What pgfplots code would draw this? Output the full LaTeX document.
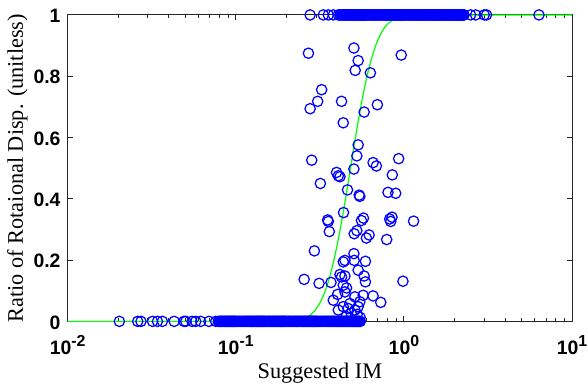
\documentclass[border=0pt]{standalone}
\usepackage{pgfplots}
\pgfplotsset{compat=1.18}
\usepackage{fontspec}
\setmainfont{Liberation Serif}
\newfontfamily\arialf{Liberation Sans}
\definecolor{axgray}{RGB}{38,38,38}
\definecolor{mgreen}{RGB}{0,255,0}
\newcommand\sups[1]{\raisebox{7.6pt}{\fontsize{16}{16}\selectfont #1}}
\begin{document}
\begin{tikzpicture}
\begin{axis}[name=ax, scale only axis, width=507pt, height=308pt,
 xmode=log, xmin=0.01, xmax=10, ymin=0, ymax=1, clip=false,
 xtick={0.01,0.1,1,10},
 xticklabels={10\sups{-2},10\sups{-1},10\sups{0},10\sups{1}},
 minor xtick={0.02,0.03,0.04,0.05,0.06,0.07,0.08,0.09,0.2,0.3,0.4,0.5,0.6,0.7,0.8,0.9,2,3,4,5,6,7,8,9},
 ytick={0,0.2,0.4,0.6,0.8,1}, yticklabels={0,0.2,0.4,0.6,0.8,1},
 tick align=inside, major tick length=5pt, minor tick length=3pt,
 axis line style={axgray, line width=1.1pt},
 every tick/.style={axgray, line width=0.9pt},
 ticklabel style={font=\fontsize{19.5}{19.5}\selectfont\arialf\bfseries, text=black, inner sep=0pt},
 xticklabel style={anchor=north, yshift=-14pt},
 yticklabel style={anchor=east, xshift=-7pt, yshift=-1pt},
 xlabel={Suggested IM}, ylabel={Ratio of Rotaional Disp. (unitless)},
 label style={font=\fontsize{22.4}{22.4}\selectfont, text=black},
 xlabel style={at={(axis description cs:0.5,0)}, anchor=north, yshift=-42pt, inner sep=0pt},
 ylabel style={at={(axis description cs:0,0.5)}, anchor=south, yshift=40pt, inner sep=0pt},
]
% scattered data (blue circles)
\addplot[only marks, mark=o, mark size=5.2pt, mark options={blue, line width=1.25pt}]
 table[row sep=\\]{x y\\
0.0203 0\\ 0.0261 0\\ 0.0273 0\\ 0.0320 0\\ 0.0342 0\\ 0.0366 0\\ 0.0430 0\\ 0.0492 0\\ 0.0504 0\\ 0.0549 0\\ 0.0578 0\\ 0.0618 0\\ 0.0692 0\\ 0.0759 0\\
0.079 0\\ 0.080 0\\ 0.081 0\\ 0.082 0\\ 0.083 0\\ 0.084 0\\ 0.085 0\\ 0.086 0\\ 0.087 0\\ 0.088 0\\ 0.089 0\\ 0.090 0\\ 0.091 0\\ 0.092 0\\ 0.093 0\\ 0.094 0\\ 0.095 0\\ 0.096 0\\ 0.097 0\\ 0.098 0\\ 0.099 0\\ 0.100 0\\
0.1015 0\\ 0.103 0\\ 0.1045 0\\ 0.106 0\\ 0.1075 0\\ 0.109 0\\ 0.1105 0\\ 0.112 0\\ 0.1135 0\\ 0.115 0\\ 0.1165 0\\ 0.118 0\\ 0.1195 0\\ 0.121 0\\ 0.1225 0\\ 0.124 0\\ 0.1255 0\\ 0.127 0\\ 0.1285 0\\ 0.130 0\\ 0.1315 0\\ 0.133 0\\ 0.1345 0\\ 0.136 0\\ 0.1375 0\\ 0.139 0\\ 0.1405 0\\ 0.142 0\\ 0.1435 0\\ 0.145 0\\ 0.1465 0\\ 0.148 0\\ 0.1495 0\\
0.151 0\\ 0.153 0\\ 0.155 0\\ 0.157 0\\ 0.159 0\\ 0.161 0\\ 0.163 0\\ 0.165 0\\ 0.167 0\\ 0.169 0\\ 0.171 0\\ 0.173 0\\ 0.175 0\\ 0.177 0\\ 0.179 0\\ 0.181 0\\ 0.183 0\\ 0.185 0\\ 0.187 0\\ 0.189 0\\ 0.191 0\\ 0.193 0\\ 0.195 0\\ 0.197 0\\ 0.199 0\\
0.202 0\\ 0.205 0\\ 0.208 0\\ 0.211 0\\ 0.214 0\\ 0.217 0\\ 0.220 0\\ 0.223 0\\ 0.226 0\\ 0.229 0\\ 0.232 0\\ 0.235 0\\ 0.238 0\\ 0.241 0\\ 0.244 0\\ 0.247 0\\ 0.250 0\\ 0.253 0\\ 0.256 0\\ 0.259 0\\ 0.262 0\\ 0.265 0\\ 0.268 0\\ 0.271 0\\ 0.274 0\\ 0.277 0\\ 0.280 0\\ 0.283 0\\ 0.286 0\\ 0.289 0\\ 0.292 0\\ 0.295 0\\ 0.298 0\\ 0.301 0\\
0.305 0\\ 0.310 0\\ 0.315 0\\ 0.320 0\\ 0.325 0\\ 0.330 0\\ 0.335 0\\ 0.340 0\\ 0.345 0\\ 0.350 0\\ 0.355 0\\ 0.360 0\\ 0.365 0\\ 0.370 0\\ 0.375 0\\ 0.380 0\\ 0.385 0\\ 0.390 0\\ 0.395 0\\ 0.400 0\\ 0.405 0\\ 0.410 0\\ 0.415 0\\ 0.420 0\\ 0.425 0\\ 0.430 0\\ 0.435 0\\ 0.440 0\\ 0.445 0\\ 0.450 0\\ 0.455 0\\ 0.460 0\\ 0.465 0\\ 0.470 0\\ 0.475 0\\ 0.480 0\\ 0.485 0\\ 0.490 0\\ 0.495 0\\ 0.500 0\\ 0.505 0\\ 0.510 0\\ 0.515 0\\ 0.520 0\\ 0.525 0\\ 0.530 0\\ 0.535 0\\ 0.540 0\\ 0.545 0\\ 0.550 0\\
0.4537 0.016\\ 0.5490 0.013\\ 0.4858 0.026\\ 0.5270 0.023\\
0.2704 0.875\\ 0.5040 0.892\\ 0.5342 0.851\\ 0.5130 0.819\\ 0.9638 0.869\\ 0.6318 0.811\\ 0.3241 0.756\\ 0.3069 0.718\\ 0.2767 0.694\\ 0.4256 0.718\\
0.6950 0.707\\ 0.5799 0.683\\ 0.4356 0.648\\ 0.5342 0.576\\ 0.5248 0.540\\ 0.2828 0.526\\ 0.5040 0.497\\ 0.9303 0.531\\ 0.6555 0.518\\ 0.6856 0.507\\
0.8527 0.478\\ 0.3975 0.486\\ 0.4069 0.475\\ 0.4164 0.472\\ 0.3184 0.450\\ 0.4618 0.429\\ 0.5416 0.412\\ 0.5468 0.408\\ 0.8040 0.421\\ 0.8932 0.418\\
0.4373 0.355\\ 0.3517 0.331\\ 0.3550 0.326\\ 0.3599 0.293\\ 0.5744 0.337\\ 0.5589 0.329\\ 0.8229 0.334\\ 0.8492 0.340\\ 0.8343 0.326\\ 1.1413 0.327\\
0.5248 0.296\\ 0.5060 0.286\\ 0.6207 0.282\\ 0.5982 0.272\\ 0.7898 0.267\\ 0.2934 0.230\\ 0.5040 0.221\\ 0.4458 0.199\\ 0.4356 0.194\\ 0.5060 0.199\\
0.5902 0.196\\ 0.5342 0.167\\ 0.4164 0.153\\ 0.4458 0.148\\ 0.4256 0.145\\ 0.5799 0.148\\ 0.5902 0.129\\ 0.2550 0.137\\ 0.3128 0.124\\ 0.3684 0.127\\
0.9865 0.131\\ 0.4356 0.118\\ 0.4556 0.109\\ 0.4458 0.096\\ 0.4030 0.088\\ 0.3802 0.069\\ 0.5109 0.080\\ 0.5720 0.085\\ 0.6555 0.083\\ 0.7279 0.062\\
0.4773 0.058\\ 0.5342 0.048\\ 0.5109 0.037\\ 0.5468 0.064\\ 0.4069 0.037\\ 0.4356 0.048\\ 0.4662 0.042\\
0.2767 1\\ 0.3317 1\\ 0.3550 1\\ 0.3802 1\\ 0.4069 1\\ 0.4164 1\\
0.420 1\\ 0.425 1\\ 0.430 1\\ 0.435 1\\ 0.440 1\\ 0.445 1\\ 0.450 1\\ 0.455 1\\ 0.460 1\\ 0.465 1\\ 0.470 1\\ 0.475 1\\ 0.480 1\\ 0.485 1\\ 0.490 1\\ 0.495 1\\ 0.500 1\\ 0.505 1\\ 0.510 1\\ 0.515 1\\ 0.520 1\\ 0.525 1\\ 0.530 1\\ 0.535 1\\ 0.540 1\\ 0.545 1\\ 0.550 1\\ 0.555 1\\ 0.560 1\\ 0.565 1\\ 0.570 1\\ 0.575 1\\ 0.580 1\\ 0.585 1\\ 0.590 1\\ 0.595 1\\ 0.600 1\\
0.61 1\\ 0.62 1\\ 0.63 1\\ 0.64 1\\ 0.65 1\\ 0.66 1\\ 0.67 1\\ 0.68 1\\ 0.69 1\\ 0.70 1\\ 0.71 1\\ 0.72 1\\ 0.73 1\\ 0.74 1\\ 0.75 1\\ 0.76 1\\ 0.77 1\\ 0.78 1\\ 0.79 1\\ 0.80 1\\ 0.81 1\\ 0.82 1\\ 0.83 1\\ 0.84 1\\ 0.85 1\\ 0.86 1\\ 0.87 1\\ 0.88 1\\ 0.89 1\\ 0.90 1\\ 0.91 1\\ 0.92 1\\ 0.93 1\\ 0.94 1\\ 0.95 1\\ 0.96 1\\ 0.97 1\\ 0.98 1\\ 0.99 1\\ 1.00 1\\
1.015 1\\ 1.03 1\\ 1.045 1\\ 1.06 1\\ 1.075 1\\ 1.09 1\\ 1.105 1\\ 1.12 1\\ 1.135 1\\ 1.15 1\\ 1.165 1\\ 1.18 1\\ 1.195 1\\ 1.21 1\\ 1.225 1\\ 1.24 1\\ 1.255 1\\ 1.27 1\\ 1.285 1\\ 1.30 1\\ 1.315 1\\ 1.33 1\\ 1.345 1\\ 1.36 1\\ 1.375 1\\ 1.39 1\\ 1.405 1\\ 1.42 1\\ 1.435 1\\ 1.45 1\\ 1.465 1\\ 1.48 1\\ 1.495 1\\ 1.51 1\\ 1.525 1\\ 1.54 1\\ 1.555 1\\ 1.57 1\\ 1.585 1\\ 1.60 1\\
1.62 1\\ 1.64 1\\ 1.66 1\\ 1.68 1\\ 1.70 1\\ 1.72 1\\ 1.74 1\\ 1.76 1\\ 1.78 1\\ 1.80 1\\ 1.82 1\\ 1.84 1\\ 1.86 1\\ 1.88 1\\ 1.90 1\\ 1.92 1\\ 1.94 1\\ 1.96 1\\ 1.98 1\\ 2.00 1\\ 2.02 1\\ 2.04 1\\ 2.06 1\\ 2.08 1\\ 2.10 1\\ 2.12 1\\ 2.14 1\\ 2.16 1\\ 2.18 1\\ 2.20 1\\ 2.22 1\\ 2.24 1\\ 2.26 1\\ 2.28 1\\
2.491 1\\ 2.667 1\\ 3.002 1\\ 3.098 1\\ 6.353 1\\
};
% fitted curve (green)
\addplot[mgreen, line width=1.2pt, smooth]
 table[row sep=\\]{x y\\
0.01 0\\ 0.1 0\\ 0.1585 0\\ 0.1778 0.0001\\ 0.1995 0.00055\\ 0.2239 0.00227\\ 0.2512 0.0080\\ 0.2661 0.0140\\ 0.2818 0.0237\\ 0.2985 0.0384\\
0.3162 0.0599\\ 0.3350 0.0898\\ 0.3548 0.1296\\ 0.3758 0.1802\\ 0.3981 0.2417\\ 0.4217 0.3131\\ 0.4467 0.3921\\ 0.4732 0.4762\\ 0.5012 0.5612\\
0.5309 0.6435\\ 0.5623 0.7194\\ 0.5957 0.7867\\ 0.6310 0.8434\\ 0.6683 0.8892\\ 0.7079 0.9245\\ 0.7499 0.9505\\ 0.7943 0.9688\\ 0.8913 0.9890\\
1.0 0.9967\\ 1.122 0.9992\\ 1.259 0.9998\\ 1.585 1\\ 10 1\\
};
\end{axis}
\pgfresetboundingbox
\path[use as bounding box] ([xshift=-68pt,yshift=-62pt]ax.south west) rectangle ([xshift=16pt,yshift=15pt]ax.north east);
\end{tikzpicture}
\end{document}
